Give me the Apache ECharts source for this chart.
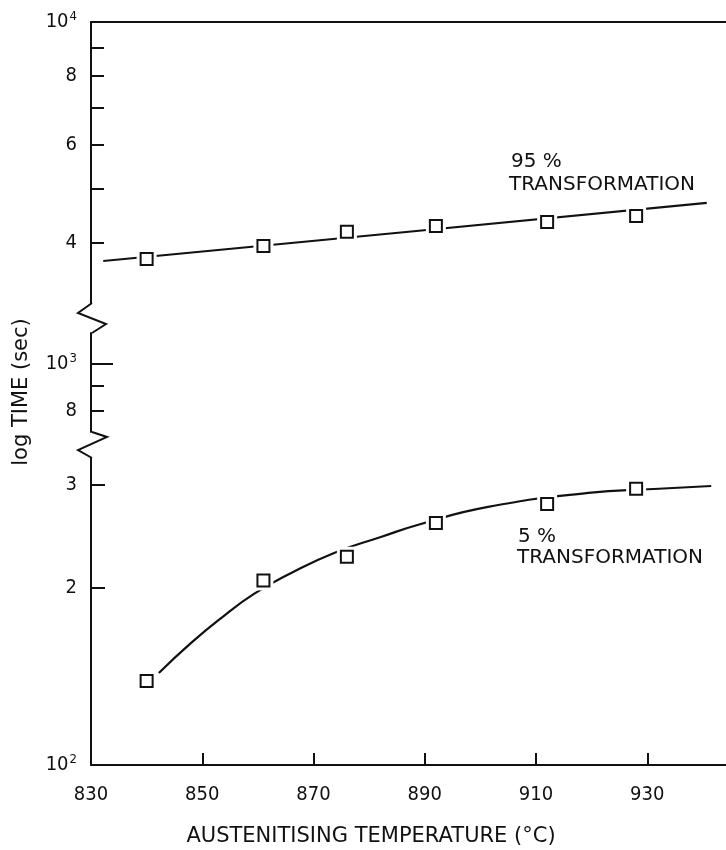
<!DOCTYPE html>
<html>
<head>
<meta charset="utf-8">
<title>Austenitising temperature vs transformation time</title>
<script src="https://cdn.jsdelivr.net/npm/echarts@6/dist/echarts.min.js"></script>
<style>
  html, body { margin: 0; padding: 0; background: #fff; }
  #chart { width: 726px; height: 850px; }
</style>
</head>
<body>
<div id="chart"></div>

<script type="text/javascript">

// measured points (temperature in deg C, time in sec)
var temps = [840, 861, 876, 892, 912, 928];
var time95 = [3741, 3949, 4188, 4290, 4362, 4473];
var time5 = [139, 206, 226, 258, 278, 295];

// fitted curves
var curve95Temp = [832.2, 885.7, 940.7];
var curve95Time = [3710, 4176, 4720];
var curve5Temp = [842.2, 848, 853.4, 859.3, 866, 873.7, 882.1, 889.3, 901.4, 919.4, 931.2, 941.5];
var curve5Time = [143.4, 161.3, 177.8, 195.4, 212.1, 229.4, 244.2, 257, 274.7, 290.2, 294.7, 298.2];

// axis ticks / labels
var xTicks = [850, 870, 890, 910, 930];
var xLabels = [830, 850, 870, 890, 910, 930];
var topTicks = [4000, 5000, 6000, 7000, 8000, 9000];
var topLabels = [4000, 6000, 8000, 10000];
var midTicks = [800, 900];
var midLongTicks = [1000];
var midLabels = [800, 1000];
var botTicks = [200, 300];
var botLabels = [100, 200, 300];
var labelText = {100: '10{s|2}', 200: '2', 300: '3', 800: '8', 1000: '10{s|3}',
                 4000: '4', 6000: '6', 8000: '8', 10000: '10{s|4}'};

var INK = '#111';
var FONT = 'DejaVu Sans';
var TICKFONT = "'DejaVu Sans Condensed', 'DejaVu Sans'";

// layout of the three pieces of the broken axis (pixels)
var L = 91, W = 635;
var topG = {top: 22, height: 281};
var midG = {top: 333, height: 99};
var botG = {top: 458, height: 307};

var lg = function (v) { return Math.log10(v); };
var pair = function (xs, ys) {
    return xs.map(function (x, i) { return [x, lg(ys[i])]; });
};

var chart = echarts.init(document.getElementById('chart'));

function yAxisFor(grid, min, max, ticks, labels, tickLen) {
    return {
        type: 'value', gridIndex: grid, position: 'left',
        min: min, max: max,
        splitLine: {show: false},
        axisLine: {show: true, lineStyle: {color: INK, width: 2}},
        axisTick: {show: true, inside: true, length: tickLen,
                   customValues: ticks.map(lg), lineStyle: {color: INK, width: 2}},
        axisLabel: {
            show: labels.length > 0, margin: 14,
            customValues: labels.map(lg),
            color: INK, fontFamily: TICKFONT, fontSize: 20,
            formatter: function (v) { return labelText[Math.round(Math.pow(10, v))] || ''; },
            rich: {s: {fontSize: 13, fontFamily: TICKFONT, color: INK, verticalAlign: 'top', padding: [0, 0, 10, 1]}}
        }
    };
}

function xAxisFor(grid, opts) {
    return Object.assign({
        type: 'value', gridIndex: grid, min: 830, max: 830 + W / 5.5625,
        splitLine: {show: false},
        axisLine: {show: false},
        axisTick: {show: false},
        axisLabel: {show: false}
    }, opts);
}

var markStyle = {color: '#fff', borderColor: INK, borderWidth: 2, opacity: 1};
var haloStyle = {color: '#fff', borderWidth: 0, opacity: 1};

var option = {
    backgroundColor: '#fff',
    animation: false,
    grid: [
        {left: L, width: W, top: topG.top, height: topG.height},
        {left: L, width: W, top: midG.top, height: midG.height},
        {left: L, width: W, top: botG.top, height: botG.height}
    ],
    xAxis: [
        xAxisFor(0, {position: 'top', axisLine: {show: true, lineStyle: {color: INK, width: 2}}}),
        xAxisFor(1, {}),
        xAxisFor(2, {
            position: 'bottom',
            axisLine: {show: true, lineStyle: {color: INK, width: 2}},
            axisTick: {show: true, inside: true, length: 12, customValues: xTicks,
                       lineStyle: {color: INK, width: 2}},
            axisLabel: {show: true, customValues: xLabels, margin: 20,
                        color: INK, fontFamily: TICKFONT, fontSize: 20}
        })
    ],
    yAxis: [
        yAxisFor(0, 4 - topG.height / 555, 4, topTicks, topLabels, 13),
        yAxisFor(1, 3 - 68 / 485, 3 + 31 / 485, midTicks, midLabels, 13),
        yAxisFor(2, 2, 2 + botG.height / 588, botTicks, botLabels, 14),
        // longer tick at 10^3
        Object.assign(yAxisFor(1, 3 - 68 / 485, 3 + 31 / 485, midLongTicks, [], 22),
                      {axisLine: {show: false}})
    ],
    series: [
        {type: 'line', xAxisIndex: 0, yAxisIndex: 0, smooth: true, showSymbol: false, z: 2,
         lineStyle: {color: INK, width: 2.2}, data: pair(curve95Temp, curve95Time)},
        {type: 'scatter', xAxisIndex: 0, yAxisIndex: 0, symbol: 'rect', symbolSize: 20, z: 3,
         itemStyle: haloStyle, data: pair(temps, time95)},
        {type: 'scatter', xAxisIndex: 0, yAxisIndex: 0, symbol: 'rect', symbolSize: 12, z: 4,
         itemStyle: markStyle, data: pair(temps, time95)},

        {type: 'line', xAxisIndex: 2, yAxisIndex: 2, smooth: true, showSymbol: false, z: 2,
         lineStyle: {color: INK, width: 2.2}, data: pair(curve5Temp, curve5Time)},
        {type: 'scatter', xAxisIndex: 2, yAxisIndex: 2, symbol: 'rect', symbolSize: 20, z: 3,
         itemStyle: haloStyle, data: pair(temps, time5)},
        {type: 'scatter', xAxisIndex: 2, yAxisIndex: 2, symbol: 'rect', symbolSize: 12, z: 4,
         itemStyle: markStyle, data: pair(temps, time5)}
    ],
    graphic: [
        // axis breaks
        {type: 'polyline', z: 10, shape: {points: [[L + 1, 303], [78, 313], [106, 324], [L + 1, 333]]},
         style: {stroke: INK, lineWidth: 2, fill: null}},
        {type: 'polyline', z: 10, shape: {points: [[L + 1, 432], [107, 437], [78, 450], [L + 1, 458]]},
         style: {stroke: INK, lineWidth: 2, fill: null}},
        // axis titles
        {type: 'text', x: 371, y: 837,
         style: {text: 'AUSTENITISING TEMPERATURE (°C)', fill: INK, font: '21px ' + FONT,
                 align: 'center', verticalAlign: 'middle'}},
        {type: 'text', x: 22, y: 392, rotation: Math.PI / 2,
         style: {text: 'log TIME (sec)', fill: INK, font: '21px ' + FONT,
                 align: 'center', verticalAlign: 'middle'}},
        // curve labels
        {type: 'text', x: 511, y: 162,
         style: {text: '95 %', fill: INK, font: '20px ' + FONT, verticalAlign: 'middle'}},
        {type: 'text', x: 509, y: 185,
         style: {text: 'TRANSFORMATION', fill: INK, font: '20px ' + FONT, verticalAlign: 'middle'}},
        {type: 'text', x: 518, y: 537,
         style: {text: '5 %', fill: INK, font: '20px ' + FONT, verticalAlign: 'middle'}},
        {type: 'text', x: 517, y: 558,
         style: {text: 'TRANSFORMATION', fill: INK, font: '20px ' + FONT, verticalAlign: 'middle'}}
    ]
};

chart.setOption(option);

</script>
</body>
</html>
